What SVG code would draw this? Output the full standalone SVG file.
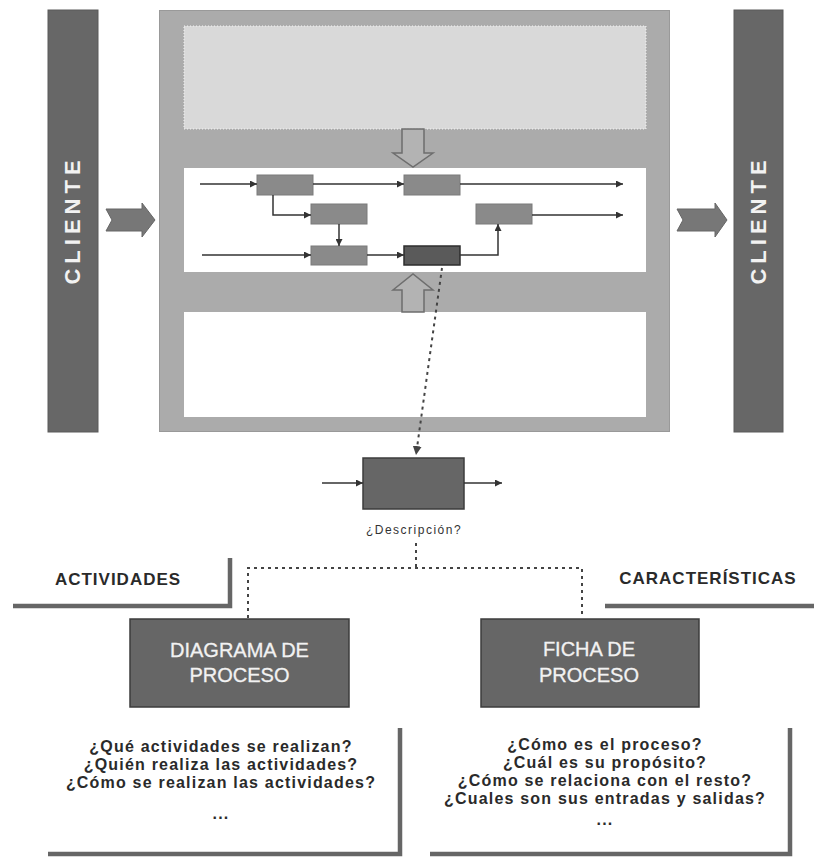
<svg xmlns="http://www.w3.org/2000/svg" width="814" height="857" viewBox="0 0 814 857">
  <style>
    .bar { fill: #676767; stroke: #5a5a5a; stroke-width: 1; }
    .bar-label { font-family: "Liberation Sans", Arial, sans-serif; font-weight: bold; font-size: 22px; letter-spacing: 5px; fill: #f2f2f2; text-anchor: middle; }
    .chevron { fill: #777; stroke: #666; stroke-width: 1; }
    .hollow { fill: #b3b3b3; stroke: #6e6e6e; stroke-width: 1.5; }
    .step { fill: #8a8a8a; stroke: #7a7a7a; stroke-width: 1; }
    .flow { fill: none; stroke: #333; stroke-width: 1.5; marker-end: url(#tip); }
    .dash { fill: none; stroke: #444; stroke-width: 2; stroke-dasharray: 3 4; }
    .dark-box { fill: #666; stroke: #3c3c3c; stroke-width: 1.5; }
    .box-label { font-family: "Liberation Sans", Arial, sans-serif; font-size: 20px; fill: #f2f2f2; stroke: #f2f2f2; stroke-width: 0.3; text-anchor: middle; }
    .heading { font-family: "Liberation Sans", Arial, sans-serif; font-weight: bold; font-size: 17px; letter-spacing: 1px; fill: #2a2a2a; text-anchor: middle; }
    .question { font-family: "Liberation Sans", Arial, sans-serif; font-weight: bold; font-size: 16px; letter-spacing: 1.2px; fill: #2a2a2a; text-anchor: middle; }
    .bracket { fill: none; stroke: #666; stroke-width: 4.5; }
  </style>
  <defs>
    <marker id="tip" markerUnits="userSpaceOnUse" markerWidth="8" markerHeight="7" refX="7" refY="3.5" orient="auto">
      <path d="M0,0 L7,3.5 L0,7 Z" fill="#333"/>
    </marker>
    <marker id="tip-lg" markerUnits="userSpaceOnUse" markerWidth="10" markerHeight="9" refX="9" refY="4.5" orient="auto">
      <path d="M0,0 L9,4.5 L0,9 Z" fill="#444"/>
    </marker>
  </defs>

  <rect width="814" height="857" fill="#fff"/>

  <!-- client bars -->
  <g id="cliente-in">
    <rect class="bar" x="48" y="10" width="50" height="422"/>
    <text class="bar-label" transform="translate(80,220) rotate(-90)">CLIENTE</text>
  </g>
  <g id="cliente-out">
    <rect class="bar" x="734" y="10" width="49" height="422"/>
    <text class="bar-label" transform="translate(766,220) rotate(-90)">CLIENTE</text>
  </g>

  <!-- process map frame -->
  <g id="process-map">
    <rect x="159.5" y="10.5" width="510" height="421" fill="#ababab" stroke="#999" stroke-width="1"/>
    <rect x="184" y="26" width="462" height="103" fill="#d9d9d9" stroke="#f4f4f4" stroke-width="1" stroke-dasharray="1 2"/>
    <rect x="184" y="168" width="462" height="104" fill="#fff"/>
    <rect x="184" y="312" width="462" height="105" fill="#fff"/>
    <polygon class="hollow" points="402,129 424,129 424,153 433,153 413,167 393,153 402,153"/>
    <polygon class="hollow" points="402,312 402,290 393,290 413,274 433,290 424,290 424,312"/>
  </g>

  <!-- activity steps -->
  <g id="step-a"><rect class="step" x="257" y="175" width="56" height="20"/></g>
  <g id="step-b"><rect class="step" x="404" y="175" width="56" height="20"/></g>
  <g id="step-c"><rect class="step" x="311" y="204" width="56" height="20"/></g>
  <g id="step-d"><rect class="step" x="476" y="204" width="56" height="20"/></g>
  <g id="step-e"><rect class="step" x="311" y="246" width="56" height="19"/></g>
  <g id="step-f"><rect x="404" y="246" width="56" height="19" fill="#5a5a5a" stroke="#2e2e2e" stroke-width="1.5"/></g>

  <!-- detailed activity -->
  <g id="descripcion">
    <rect class="dark-box" x="363" y="458" width="101" height="51"/>
    <text x="414" y="534" font-family="'Liberation Sans', Arial, sans-serif" font-size="12" letter-spacing="1.5" fill="#333" text-anchor="middle">¿Descripción?</text>
  </g>

  <g id="diagrama">
    <rect class="dark-box" x="130" y="619" width="219" height="88"/>
    <text class="box-label" x="239.5" y="657">DIAGRAMA DE</text>
    <text class="box-label" x="239.5" y="682">PROCESO</text>
  </g>
  <g id="ficha">
    <rect class="dark-box" x="481" y="619" width="218" height="88"/>
    <text class="box-label" x="589" y="656">FICHA DE</text>
    <text class="box-label" x="589" y="682">PROCESO</text>
  </g>

  <g id="actividades">
    <text class="heading" x="118" y="585">ACTIVIDADES</text>
    <path class="bracket" d="M13,606 H230 V558"/>
  </g>
  <g id="caracteristicas">
    <text class="heading" x="708" y="584">CARACTERÍSTICAS</text>
    <path class="bracket" d="M605,606 H814"/>
  </g>

  <g id="preguntas-diagrama">
    <text class="question" x="221" y="752">¿Qué actividades se realizan?</text>
    <text class="question" x="221" y="770">¿Quién realiza las actividades?</text>
    <text class="question" x="221" y="788">¿Cómo se realizan las actividades?</text>
    <text class="question" x="221" y="819">...</text>
    <path class="bracket" d="M48,854 H400 V728"/>
  </g>
  <g id="preguntas-ficha">
    <text class="question" x="605" y="750">¿Cómo es el proceso?</text>
    <text class="question" x="605" y="768">¿Cuál es su propósito?</text>
    <text class="question" x="605" y="786">¿Cómo se relaciona con el resto?</text>
    <text class="question" x="605" y="804">¿Cuales son sus entradas y salidas?</text>
    <text class="question" x="605" y="825">...</text>
    <path class="bracket" d="M430,854 H790 V728"/>
  </g>

  <!-- connectors -->
  <g id="connectors">
    <polygon class="chevron" points="106,209 142,209 142,203 155,220 142,237 142,231 106,231 112,220"/>
    <polygon class="chevron" points="677,209 715,209 715,203 727,220 715,237 715,231 677,231 683,220"/>

    <path class="flow" d="M200,184 H257"/>
    <path class="flow" d="M313,184 H404"/>
    <path class="flow" d="M460,184 H623"/>
    <path class="flow" d="M273,195 V215 H311"/>
    <path class="flow" d="M339,224 V246"/>
    <path class="flow" d="M202,255 H311"/>
    <path class="flow" d="M367,255 H404"/>
    <path class="flow" d="M460,255 H498 V224"/>
    <path class="flow" d="M532,215 H623"/>

    <path class="dash" d="M442,268 L416,455" marker-end="url(#tip-lg)"/>

    <path class="flow" d="M322,483 H363"/>
    <path class="flow" d="M464,483 H502"/>

    <path class="dash" d="M416,543 V568"/>
    <path class="dash" d="M248,618 V568 H582 V618"/>
  </g>
</svg>
